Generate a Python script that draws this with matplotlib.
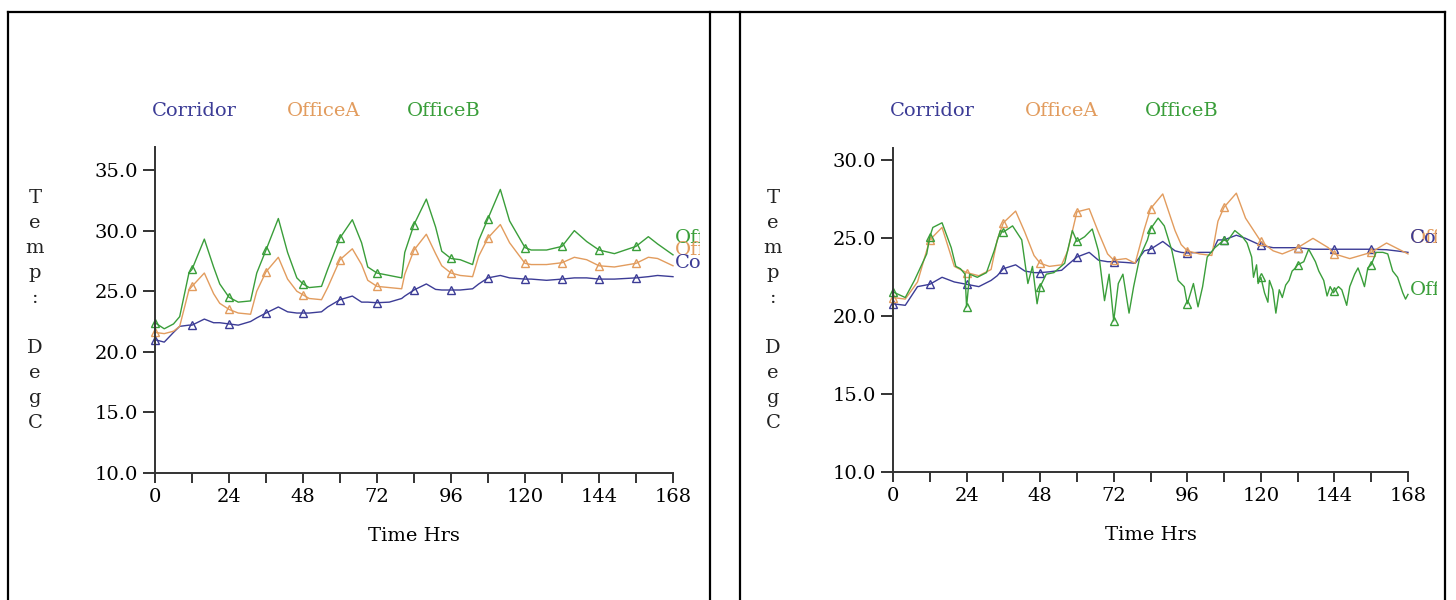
import numpy as np
import matplotlib
matplotlib.use("Agg")
import matplotlib.pyplot as plt
from matplotlib.lines import Line2D
from matplotlib.transforms import Bbox, TransformedBbox

plt.rcParams['font.family'] = ['DejaVu Serif']

# ---- left panel data (hours, deg C) ----
hours_left = [0, 3, 6, 8, 11, 12, 16, 19, 21, 24, 27, 31, 33, 36, 40, 43, 46, 48, 50, 54,
              56, 60, 64, 67, 69, 72, 76, 80, 81, 84, 88, 91, 93, 96, 99, 103, 105, 108, 112, 115,
              120, 122, 127, 132, 136, 140, 144, 149, 156, 160, 163, 168]
corridor_left = [21.0, 20.8, 21.6, 22.1, 22.2, 22.2, 22.7, 22.4, 22.4, 22.3, 22.2, 22.5, 22.8, 23.2, 23.7, 23.3, 23.2, 23.2, 23.2, 23.3,
                 23.7, 24.3, 24.6, 24.1, 24.1, 24.05, 24.1, 24.4, 24.6, 25.1, 25.6, 25.15, 25.1, 25.1, 25.1, 25.2, 25.6, 26.1, 26.3, 26.1,
                 26.0, 26.0, 25.9, 26.0, 26.1, 26.1, 26.0, 26.0, 26.1, 26.2, 26.3, 26.2]
officeA_left = [21.6, 21.5, 21.7, 22.1, 25.1, 25.4, 26.5, 24.8, 24.0, 23.5, 23.2, 23.1, 25.0, 26.6, 27.8, 26.0, 25.0, 24.7, 24.4, 24.3,
                25.3, 27.6, 28.5, 27.2, 25.9, 25.4, 25.3, 25.2, 26.4, 28.4, 29.7, 28.1, 27.1, 26.5, 26.3, 26.2, 27.9, 29.4, 30.5, 29.0,
                27.3, 27.2, 27.2, 27.35, 27.8, 27.6, 27.1, 27.0, 27.3, 27.8, 27.7, 27.1]
officeB_left = [22.4, 21.9, 22.3, 22.9, 26.5, 26.8, 29.3, 27.0, 25.6, 24.5, 24.1, 24.2, 26.5, 28.4, 31.0, 28.2, 26.1, 25.6, 25.3, 25.4,
                26.8, 29.4, 30.9, 29.0, 27.0, 26.5, 26.3, 26.1, 28.2, 30.5, 32.6, 30.3, 28.3, 27.7, 27.6, 27.2, 29.2, 31.0, 33.4, 30.8,
                28.6, 28.4, 28.4, 28.7, 30.0, 29.1, 28.4, 28.1, 28.7, 29.5, 28.9, 28.0]

# ---- right panel data ----
hours_right = [0, 4, 8, 12, 16, 20, 24, 28, 32, 34, 36, 40, 43, 46, 48, 51, 55, 57, 60, 64,
               67, 70, 72, 76, 79, 82, 84, 88, 92, 94, 96, 100, 104, 106, 108, 112, 115, 120, 124, 127,
               132, 137, 142, 144, 149, 156, 161, 164, 168]
corridor_right = [20.8, 20.7, 21.9, 22.05, 22.5, 22.2, 22.05, 21.9, 22.3, 22.6, 23.05, 23.3, 22.9, 22.8, 22.8, 22.85, 22.95, 23.3, 23.8, 24.1,
                  23.6, 23.5, 23.5, 23.45, 23.4, 24.2, 24.3, 24.8, 24.2, 24.1, 24.06, 24.1, 24.1, 24.9, 24.9, 25.2, 25.0, 24.55, 24.4, 24.4,
                  24.4, 24.3, 24.3, 24.3, 24.3, 24.3, 24.27, 24.2, 24.1]
officeA_right = [21.2, 21.1, 22.2, 24.9, 25.7, 23.2, 22.8, 22.6, 23.0, 24.9, 26.0, 26.75, 25.4, 23.9, 23.4, 23.2, 23.3, 24.2, 26.7, 26.9,
                 25.4, 24.0, 23.6, 23.7, 23.4, 25.6, 26.9, 27.85, 25.5, 24.6, 24.2, 24.0, 23.9, 26.1, 27.0, 27.9, 26.3, 24.8, 24.2, 24.0,
                 24.4, 25.0, 24.4, 24.0, 23.7, 24.1, 24.7, 24.4, 24.0]
hours_right_b = [0, 4, 7, 11, 12, 13, 16, 19, 20.5, 22, 23.5, 24, 25, 27.5, 30.5, 33, 35, 36, 39, 42,
                 44, 45.5, 47, 48, 50, 52.5, 56, 58.5, 60, 62.5, 65, 67, 69, 70.5, 72, 73.5, 75, 77, 78.5, 80.5,
                 83, 84, 86.5, 88.5, 91, 93, 95, 96, 98, 99.5, 101, 102.5, 105, 108, 109, 111.5, 114, 115.5, 117, 117.6,
                 118.6, 119.1, 120, 121.2, 122.3, 122.8, 123.9, 124.9, 126, 127, 128.1, 129.2, 130.2, 131.3, 132, 134, 135.6, 136.7, 137.8, 138.9,
                 140.5, 141.6, 142.6, 143.7, 144, 145.3, 146.4, 148, 149, 150.6, 151.7, 152.8, 153.8, 154.9, 156, 157.6, 159.8, 161.4, 163, 164.6,
                 166.3, 167.2, 168]
officeB_right = [21.56, 21.2, 22.3, 24.0, 25.1, 25.7, 26.0, 24.4, 23.2, 23.05, 22.7, 20.6, 22.7, 22.5, 22.8, 24.2, 25.5, 25.4, 25.8, 24.9,
                 22.1, 23.2, 20.8, 21.9, 22.7, 22.8, 23.4, 25.5, 24.8, 25.1, 25.6, 24.2, 21.0, 22.7, 19.7, 22.1, 22.7, 20.2, 21.9, 23.8,
                 24.9, 25.6, 26.3, 25.8, 24.2, 22.3, 21.9, 20.8, 22.1, 20.6, 21.9, 23.8, 24.4, 24.9, 24.8, 25.5, 25.1, 24.7, 23.8, 22.5,
                 23.3, 22.1, 22.5, 21.5, 20.9, 22.3, 21.7, 20.2, 21.7, 21.2, 22.0, 22.3, 22.9, 23.1, 23.3, 23.5, 24.3, 23.9, 23.5, 22.9,
                 22.3, 21.3, 21.9, 21.5, 21.6, 21.9, 21.7, 20.7, 21.9, 22.7, 23.1, 22.5, 21.9, 23.1, 23.3, 24.1, 24.1, 24.0, 22.9, 22.5,
                 21.5, 21.1, 21.4]

names = ["Corridor", "OfficeA", "OfficeB"]
colors = ["#3c3c96", "#e29c5e", "#3a9e3a"]
marker_hours = list(range(0, 168, 12))

W, H = 1456, 600
fig = plt.figure(figsize=(W / 100, H / 100), dpi=100)


def fx(px):
    return px / W


def fy(py):
    return 1 - py / H


# table borders
for x0, y0, x1, y1 in [(8, 12, 1445, 12), (8, 12, 8, 600), (710, 12, 710, 600),
                       (740, 12, 740, 600), (1445, 12, 1445, 600)]:
    fig.add_artist(Line2D([fx(x0), fx(x1)], [fy(y0), fy(y1)], color="black", lw=1.6))


def panel(rect, ylim, yticks, series, legend_x, ylabel_x, end_labels, clip_px):
    ax = fig.add_axes(rect)
    for (hrs, vals), name, c in zip(series, names, colors):
        hrs = np.array(hrs)
        mask = np.isin(hrs, marker_hours)
        ax.plot(hrs, vals, color=c, lw=1.0, marker="^", markevery=list(mask),
                ms=6, mfc="none", mec=c, mew=1.0, clip_on=False)
    ax.set_xlim(0, 168)
    ax.set_ylim(*ylim)
    ax.set_yticks(yticks)
    ax.set_yticklabels([f"{v:.1f}" for v in yticks])
    ax.set_xticks(range(0, 169, 24))
    ax.set_xticks(range(12, 168, 24), minor=True)
    for s in ("top", "right"):
        ax.spines[s].set_visible(False)
    for s in ("left", "bottom"):
        ax.spines[s].set_color("#333333")
        ax.spines[s].set_linewidth(1.4)
    ax.tick_params(axis="y", length=9, width=1.4, color="#333333", labelsize=14, pad=3)
    ax.tick_params(axis="x", which="both", length=7, width=1.4, color="#333333", labelsize=14, pad=4)
    ax.set_xlabel("Time Hrs", fontsize=14, labelpad=15)

    for name, c, xp in zip(names, colors, legend_x):
        fig.text(fx(xp), fy(111), name, color=c, fontsize=14, va="center", ha="left")

    fig.text(fx(ylabel_x), fy(310), "T\ne\nm\np\n:\n\nD\ne\ng\nC", fontsize=14,
             ha="center", va="center", linespacing=1.5, color="#222222")

    clip = TransformedBbox(Bbox([[0, 0], [fx(clip_px), 1]]), fig.transFigure)
    for name, c, yv in end_labels:
        t = ax.text(168.5, yv, name, color=c, fontsize=14, va="center", ha="left", clip_on=True)
        t.set_clip_box(clip)
    return ax


panel([fx(155), fy(473), fx(673) - fx(155), fy(147) - fy(473)], (10, 36.9),
      [10, 15, 20, 25, 30, 35],
      [(hours_left, corridor_left), (hours_left, officeA_left), (hours_left, officeB_left)],
      [152, 287, 407], 35,
      [("OfficeB", colors[2], 29.4), ("OfficeA", colors[1], 28.4), ("Corridor", colors[0], 27.3)], 700)

panel([fx(893), fy(472), fx(1408) - fx(893), fy(148) - fy(472)], (10, 30.8),
      [10, 15, 20, 25, 30],
      [(hours_right, corridor_right), (hours_right, officeA_right), (hours_right_b, officeB_right)],
      [890, 1025, 1145], 773,
      [("OfficeA", colors[1], 25.05), ("Corridor", colors[0], 25.05), ("OfficeB", colors[2], 21.7)], 1437)

fig.savefig("out.png", dpi=100)
